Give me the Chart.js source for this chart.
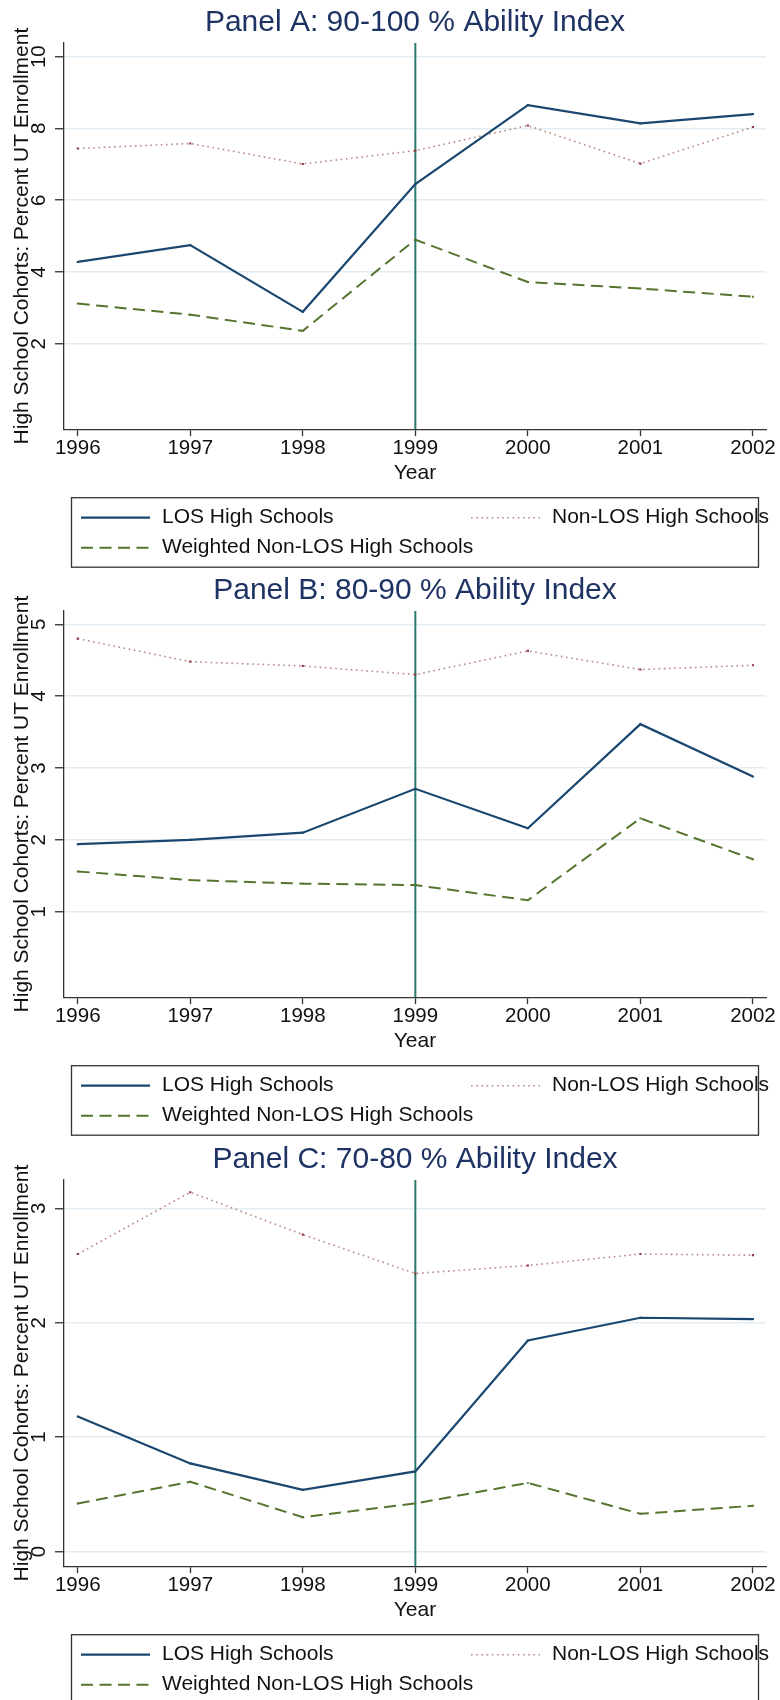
<!DOCTYPE html>
<html>
<head>
<meta charset="utf-8">
<title>UT Enrollment by Ability Index</title>
<script src="https://cdn.jsdelivr.net/npm/chart.js@4.4.1/dist/chart.umd.min.js"></script>
<style>
  html, body { margin: 0; padding: 0; background: #fff; width: 780px; height: 1700px; overflow: hidden; }
  .panel { position: absolute; left: 0; width: 780px; height: 569px; }
  canvas { display: block; }
</style>
</head>
<body>
<div class="panel" style="top:0px"><canvas id="panelA" width="780" height="569"></canvas></div>
<div class="panel" style="top:568px"><canvas id="panelB" width="780" height="569"></canvas></div>
<div class="panel" style="top:1137px"><canvas id="panelC" width="780" height="569"></canvas></div>
<script>
// ---- data ----
const years = [1996, 1997, 1998, 1999, 2000, 2001, 2002];
const policyYear = 1999;
const seriesLabels = ['LOS High Schools', 'Non-LOS High Schools', 'Weighted Non-LOS High Schools'];
const yAxisTitle = 'High School Cohorts: Percent UT Enrollment';
const xAxisTitle = 'Year';

// Panel A: 90-100 % ability index
const titleA = 'Panel A: 90-100 % Ability Index';
const losA = [4.28, 4.75, 2.89, 6.45, 8.65, 8.14, 8.40];
const nonLosA = [7.44, 7.58, 7.01, 7.38, 8.08, 7.02, 8.04];
const weightedA = [3.12, 2.81, 2.36, 4.90, 3.72, 3.54, 3.31];
const yTicksA = [2, 4, 6, 8, 10];
const yRangeA = [-0.38, 10.38];

// Panel B: 80-90 % ability index
const titleB = 'Panel B: 80-90 % Ability Index';
const losB = [1.94, 2.00, 2.10, 2.71, 2.16, 3.61, 2.88];
const nonLosB = [4.80, 4.48, 4.42, 4.30, 4.63, 4.37, 4.43];
const weightedB = [1.56, 1.44, 1.39, 1.37, 1.16, 2.30, 1.73];
const yTicksB = [1, 2, 3, 4, 5];
const yRangeB = [-0.19, 5.185];

// Panel C: 70-80 % ability index
const titleC = 'Panel C: 70-80 % Ability Index';
const losC = [1.18, 0.77, 0.54, 0.70, 1.845, 2.043, 2.032];
const nonLosC = [2.60, 3.14, 2.77, 2.43, 2.50, 2.60, 2.59];
const weightedC = [0.42, 0.61, 0.30, 0.42, 0.60, 0.33, 0.40];
const yTicksC = [0, 1, 2, 3];
const yRangeC = [-0.128, 3.247];

const xRange = [1995.878, 2002.116];

// ---- styling ----
const FONT = '"Liberation Sans", Arial, Helvetica, sans-serif';
const INK = '#111';
const AXIS = '#333';

const seriesStyles = [
  { borderColor: '#1a476f', borderWidth: 2.2, borderDash: [], pointRadius: 1.4,
    pointBackgroundColor: '#1a476f', pointStyle: 'rect' },
  { borderColor: 'rgba(144,53,59,0.6)', borderWidth: 1.6, borderDash: [1.6, 3.6], pointRadius: 1.5,
    pointBackgroundColor: '#90353b', pointStyle: 'rect' },
  { borderColor: '#55752f', borderWidth: 2, borderDash: [12, 6.5], pointRadius: 1.3,
    pointBackgroundColor: '#55752f', pointStyle: 'rect' }
];

// vertical reference line at the policy year
const policyLine = {
  id: 'policyLine',
  beforeDatasetsDraw(chart) {
    const { ctx, chartArea, scales } = chart;
    const x = scales.x.getPixelForValue(policyYear);
    ctx.save();
    ctx.strokeStyle = '#2b7a6f';
    ctx.lineWidth = 2;
    ctx.beginPath();
    ctx.moveTo(x, chartArea.top);
    ctx.lineTo(x, chartArea.bottom);
    ctx.stroke();
    ctx.restore();
  }
};

// framed two-column key below the x axis
const boxedLegend = {
  id: 'boxedLegend',
  afterDraw(chart) {
    const { ctx, chartArea } = chart;
    const top = chartArea.bottom + 68.5;
    const left = 71.5, right = 758.5, height = 69.5;
    ctx.save();
    ctx.strokeStyle = AXIS;
    ctx.lineWidth = 1.3;
    ctx.strokeRect(left, top, right - left, height);
    const slots = [[81, top + 20], [471, top + 20], [81, top + 50]];
    chart.data.datasets.forEach((ds, i) => {
      const [x, y] = slots[i];
      ctx.beginPath();
      ctx.setLineDash(ds.borderDash || []);
      ctx.strokeStyle = ds.borderColor;
      ctx.lineWidth = ds.borderWidth;
      ctx.moveTo(x, y);
      ctx.lineTo(x + 69, y);
      ctx.stroke();
      ctx.setLineDash([]);
      ctx.fillStyle = INK;
      ctx.font = '21px ' + FONT;
      ctx.textBaseline = 'middle';
      ctx.textAlign = 'left';
      ctx.fillText(ds.label, x + 81, y);
    });
    ctx.restore();
  }
};

function makeDatasets(valueLists) {
  return valueLists.map((values, i) => Object.assign({
    label: seriesLabels[i],
    data: years.map((x, k) => ({ x, y: values[k] })),
    fill: false,
    tension: 0,
    pointBorderWidth: 0,
    borderCapStyle: 'butt'
  }, seriesStyles[i]));
}

function drawPanel(canvasId, title, valueLists, yTicks, yRange, labelPad) {
  return new Chart(document.getElementById(canvasId), {
    type: 'line',
    data: { datasets: makeDatasets(valueLists) },
    plugins: [policyLine, boxedLegend],
    options: {
      responsive: false,
      animation: false,
      events: [],
      layout: { padding: { left: 0, right: 14, top: 0, bottom: 83 } },
      plugins: {
        legend: { display: false },
        tooltip: { enabled: false },
        title: {
          display: true,
          text: title,
          fullSize: false,
          color: '#1e3363',
          font: { size: 30, family: FONT, weight: 'normal' },
          padding: { top: 5, bottom: 2 }
        }
      },
      scales: {
        x: {
          type: 'linear',
          min: xRange[0],
          max: xRange[1],
          afterBuildTicks: s => { s.ticks = years.map(v => ({ value: v })); },
          grid: { drawOnChartArea: false, drawTicks: true, tickLength: 7, tickColor: AXIS, tickWidth: 1.3 },
          border: { color: AXIS, width: 1.3 },
          ticks: { padding: 0, autoSkip: false, maxRotation: 0, color: INK,
                   font: { size: 20.5, family: FONT }, callback: v => String(v) },
          title: { display: true, text: xAxisTitle, color: INK,
                   font: { size: 21, family: FONT }, padding: { top: 0, bottom: 0 } }
        },
        y: {
          type: 'linear',
          min: yRange[0],
          max: yRange[1],
          afterBuildTicks: s => { s.ticks = yTicks.map(v => ({ value: v })); },
          afterFit: s => { s.width = 64; },
          grid: { color: '#e1edf3', lineWidth: 1.5, drawTicks: true, tickLength: 9,
                  tickColor: AXIS, tickWidth: 1.3 },
          border: { color: AXIS, width: 1.3 },
          ticks: { minRotation: 90, maxRotation: 90, crossAlign: 'center', padding: labelPad,
                   color: INK, font: { size: 20.5, family: FONT }, callback: v => String(v) },
          title: { display: true, text: yAxisTitle, color: INK,
                   font: { size: 21, family: FONT }, padding: { top: 9.4, bottom: 0 } }
        }
      }
    }
  });
}

drawPanel('panelA', titleA, [losA, nonLosA, weightedA], yTicksA, yRangeA, 4.2);
drawPanel('panelB', titleB, [losB, nonLosB, weightedB], yTicksB, yRangeB, 9.8);
drawPanel('panelC', titleC, [losC, nonLosC, weightedC], yTicksC, yRangeC, 9.8);
</script>
</body>
</html>
